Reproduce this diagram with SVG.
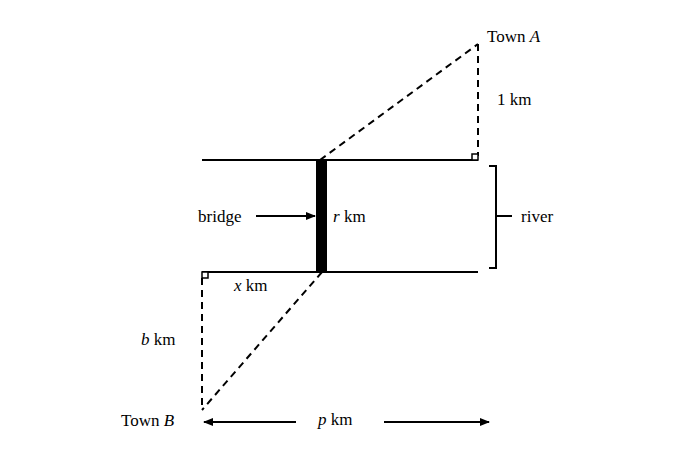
<svg xmlns="http://www.w3.org/2000/svg" width="696" height="451" viewBox="0 0 696 451">
<style>
text{font-family:"Liberation Serif",serif;font-size:17px;fill:#000}
.i{font-style:italic}
.s{stroke:#000;stroke-width:2;fill:none}
.d{stroke:#000;stroke-width:2;fill:none;stroke-dasharray:7,5}
.sq{stroke:#000;stroke-width:1.5;fill:#fff}
</style>
<defs><marker id="a" markerWidth="10" markerHeight="8" refX="9" refY="4" orient="auto" markerUnits="userSpaceOnUse"><path d="M0,0L10,4L0,8z"/></marker></defs>
<rect width="696" height="451" fill="#fff"/>
<g id="connectors">
<line class="s" x1="202" y1="160" x2="478" y2="160"/>
<line class="s" x1="202" y1="272" x2="478" y2="272"/>
<line class="d" x1="320" y1="160" x2="478" y2="44"/>
<line class="d" x1="478" y1="44" x2="478" y2="156"/>
<line class="d" x1="202" y1="278" x2="202" y2="410"/>
<line class="d" x1="322" y1="272" x2="202" y2="410"/>
<line class="s" x1="256" y1="216" x2="315" y2="216" marker-end="url(#a)"/>
<line class="s" x1="296" y1="422" x2="204" y2="422" marker-end="url(#a)"/>
<line class="s" x1="384" y1="422" x2="489" y2="422" marker-end="url(#a)"/>
<path class="s" d="M489,166H496V268H489M496,216H512"/>
</g>
<g id="bridge"><rect x="316" y="160" width="11" height="112" fill="#000"/><text x="198" y="222">bridge</text><text x="333" y="222"><tspan class="i">r</tspan>  km</text></g>
<rect class="sq" x="472" y="154" width="6" height="6"/>
<rect class="sq" x="202" y="272" width="6" height="6"/>
<g id="townA"><text x="487" y="42">Town  <tspan class="i">A</tspan></text><text x="497" y="105">1  km</text></g>
<g id="townB"><text x="121" y="426">Town  <tspan class="i">B</tspan></text><text x="141" y="345"><tspan class="i">b</tspan>  km</text></g>
<g id="labels"><text x="234" y="291"><tspan class="i">x</tspan>  km</text><text x="318" y="425"><tspan class="i">p</tspan>  km</text><text x="521" y="222">river</text></g>
</svg>
